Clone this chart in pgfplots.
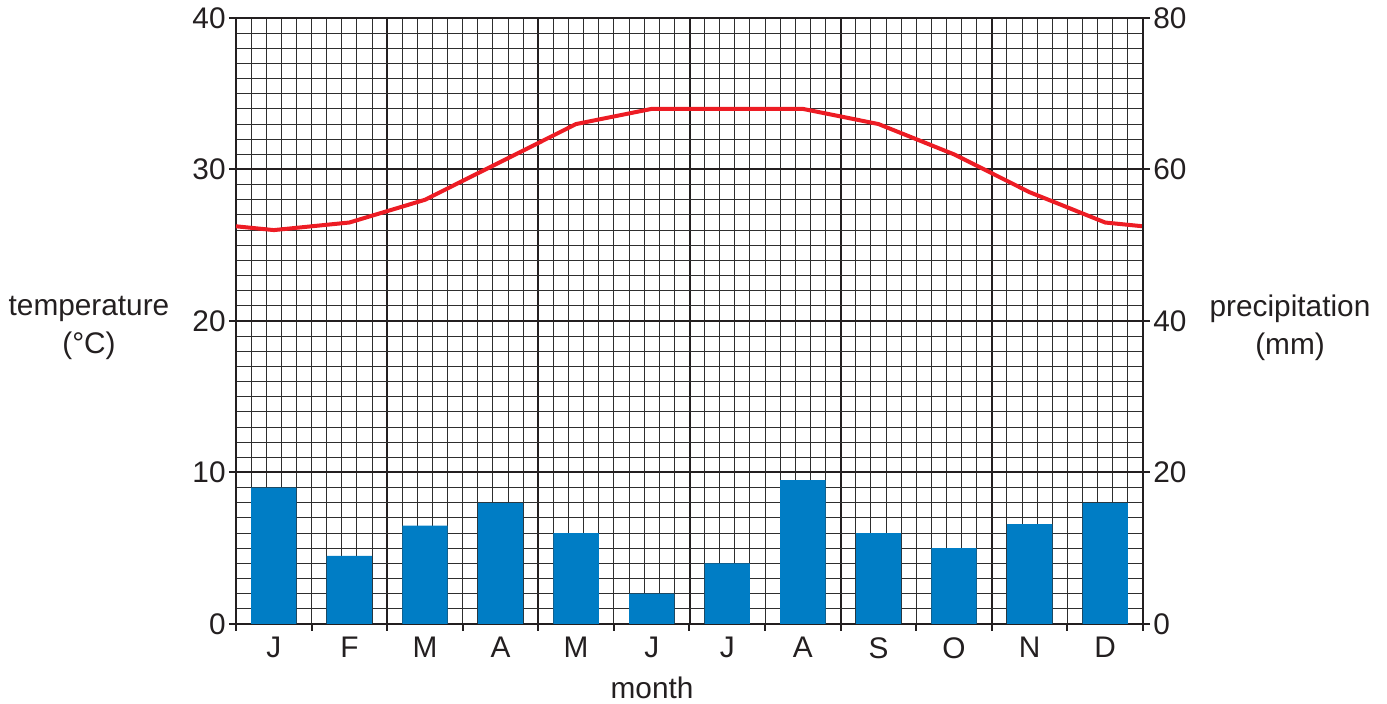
\documentclass[border=0pt]{standalone}
\usepackage{fontspec}
\setmainfont{Liberation Sans}
\usepackage{pgfplots}
\pgfplotsset{compat=1.18}

\definecolor{txt}{RGB}{35,31,32}
\definecolor{barblue}{RGB}{0,125,197}
\definecolor{linered}{RGB}{237,28,36}

% monthly mean temperature (deg C), month centres at 0..11, ends at the box edges
\pgfplotstableread{
x    t
-0.5 26.25
0    26
1    26.5
2    28
3    30.5
4    33
5    34
6    34
7    34
8    33
9    31
10   28.5
11   26.5
11.5 26.25
}\temps

% monthly precipitation (mm)
\pgfplotstableread{
x  p
0  18
1  9
2  13
3  16
4  12
5  4
6  8
7  19
8  12
9  10
10 13.2
11 16
}\rain

\pgfplotsset{
  common/.style={
    scale only axis, width=453.5pt, height=303pt,
    xmin=-0.5, xmax=11.5,
    /pgf/number format/assume math mode=true,
    tick label style={font=\fontsize{14.9}{17}\selectfont, text=txt},
    label style={font=\fontsize{14.9}{19}\selectfont, text=txt},
  },
}

\begin{document}
\begin{tikzpicture}

% graph paper
\begin{axis}[common,
  ymin=0, ymax=40,
  xtick={-0.5,1.5,...,11.5}, ytick={0,10,...,40},
  minor x tick num=9, minor y tick num=9,
  grid=both,
  major grid style={txt, line width=1pt},
  minor grid style={black!82, line width=0.5pt},
  xticklabels={}, yticklabels={},
  axis line style={draw=none}, tick style={draw=none},
]
\end{axis}

% temperature, left axis
\begin{axis}[common,
  ymin=0, ymax=40,
  axis x line*=bottom, axis y line*=left,
  axis line style={line width=1.1pt, txt},
  xtick={-0.5,0.5,...,11.5},
  xticklabels={J,F,M,A,M,J,J,A,S,O,N,D,},
  xticklabel style={xshift=18.9pt, inner sep=3pt},
  ytick={0,10,...,40},
  yticklabel style={inner sep=1.5pt},
  tick align=outside, major tick length=3.5pt,
  tick style={line width=1pt, txt},
  minor tick num=0,
  xlabel={month},
  xlabel style={at={(rel axis cs:0.4587,0)}, anchor=center, yshift=-32pt},
  ylabel={temperature\\(°C)},
  ylabel style={rotate=-90, align=center, at={(rel axis cs:0,0.5)}, anchor=center, xshift=-73.5pt, yshift=-3.5pt},
]
\addplot[linered, line width=2pt, line join=round] table[x=x, y=t] {\temps};
\coordinate (sw) at (rel axis cs:0,0);
\coordinate (ne) at (rel axis cs:1,1);
\end{axis}

% precipitation, right axis
\begin{axis}[common,
  ymin=0, ymax=80,
  axis x line=none, axis y line*=right,
  axis line style={line width=1.1pt, txt},
  ytick={0,20,...,80},
  yticklabel style={inner sep=1.5pt},
  tick align=outside, major tick length=3.5pt,
  tick style={line width=1pt, txt},
  minor tick num=0,
  ybar, bar width=0.6,
  ylabel={precipitation\\(mm)},
  ylabel style={rotate=-90, align=center, at={(rel axis cs:1,0.5)}, anchor=center, xshift=73.5pt, yshift=-3.5pt},
]
\addplot[fill=barblue, draw=none] table[x=x, y=p] {\rain};
\end{axis}

\pgfresetboundingbox
\useasboundingbox ([xshift=-118pt,yshift=-40pt]sw) rectangle ([xshift=122pt,yshift=9pt]ne);
\end{tikzpicture}
\end{document}
